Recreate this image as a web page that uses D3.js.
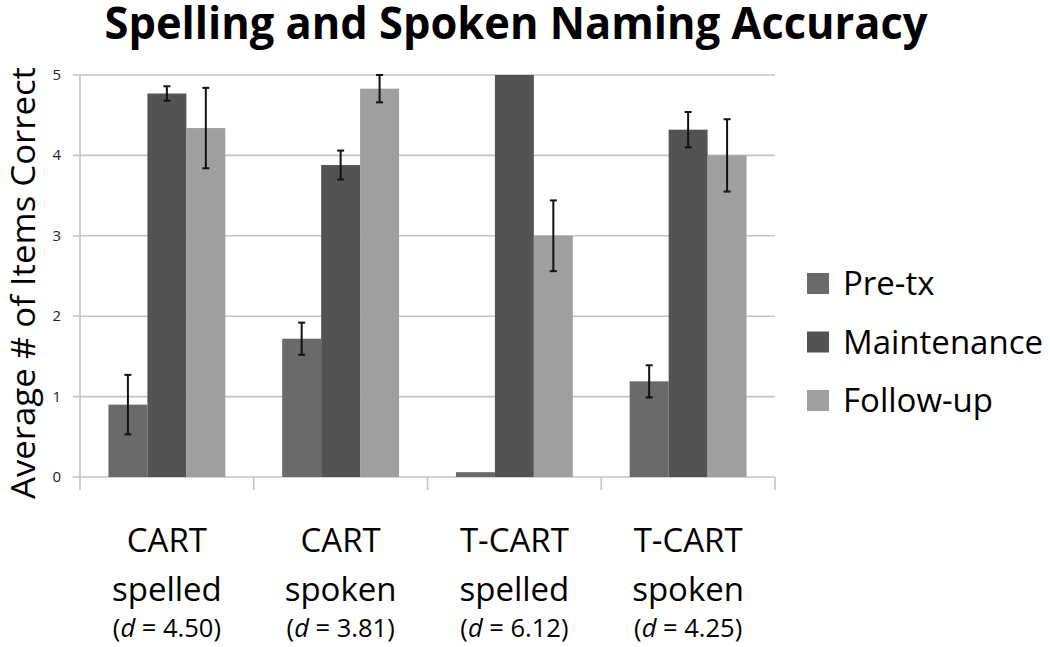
<!DOCTYPE html>
<html>
<head>
<meta charset="utf-8">
<script src="https://cdn.jsdelivr.net/npm/d3@7"></script>
<style>
  body { margin: 0; background: #fff; }
  svg text { font-family: "Open Sans", sans-serif; fill: #000; }
</style>
</head>
<body>
<div id="app"></div>
<script>
// data
const categories = ["CART spelled", "CART spoken", "T-CART spelled", "T-CART spoken"];
const catLine1 = ["CART", "CART", "T-CART", "T-CART"];
const catLine2 = ["spelled", "spoken", "spelled", "spoken"];
const effectSizes = ["4.50", "3.81", "6.12", "4.25"];
const seriesNames = ["Pre-tx", "Maintenance", "Follow-up"];
const preTx = [0.90, 1.72, 0.06, 1.19];
const maintenance = [4.77, 3.88, 5.00, 4.32];
const followUp = [4.34, 4.83, 3.00, 4.00];
const preTxErr = [0.37, 0.20, 0, 0.20];
const maintenanceErr = [0.09, 0.18, 0, 0.22];
const followUpErr = [0.50, 0.17, 0.44, 0.45];
const yTicks = [0, 1, 2, 3, 4, 5];

const seriesValues = [preTx, maintenance, followUp];
const seriesErrs = [preTxErr, maintenanceErr, followUpErr];
const colors = ["#6a6a6a", "#535353", "#9f9f9f"];

const width = 1050, height = 647;
const plot = { left: 80, right: 775, top: 75, bottom: 477 };

const svg = d3.select("#app").append("svg")
  .attr("width", width)
  .attr("height", height);

const x0 = d3.scaleBand()
  .domain(categories)
  .range([plot.left, plot.right])
  .padding(0);

const x1 = d3.scaleBand()
  .domain(seriesNames)
  .range([0, x0.bandwidth()])
  .paddingInner(0)
  .paddingOuter(0.73);

const y = d3.scaleLinear()
  .domain([0, 5])
  .range([plot.bottom, plot.top]);

// gridlines + y ticks
svg.append("g")
  .selectAll("line")
  .data(yTicks)
  .join("line")
  .attr("x1", plot.left - 7)
  .attr("x2", plot.right)
  .attr("y1", d => y(d))
  .attr("y2", d => y(d))
  .attr("stroke", "#c4c4c4")
  .attr("stroke-width", 1.6);

svg.append("g")
  .selectAll("text")
  .data(yTicks)
  .join("text")
  .attr("x", 61)
  .attr("y", d => y(d) + 5)
  .attr("text-anchor", "end")
  .style("font-size", "15px")
  .style("fill", "#222")
  .text(d => d);

// y axis line
svg.append("line")
  .attr("x1", plot.left).attr("x2", plot.left)
  .attr("y1", plot.top).attr("y2", plot.bottom + 13)
  .attr("stroke", "#c4c4c4")
  .attr("stroke-width", 1.6);

// category ticks
const bounds = categories.map(c => x0(c)).concat([plot.right]);
svg.append("g")
  .selectAll("line")
  .data(bounds.slice(1))
  .join("line")
  .attr("x1", d => d).attr("x2", d => d)
  .attr("y1", plot.bottom).attr("y2", plot.bottom + 13)
  .attr("stroke", "#c4c4c4")
  .attr("stroke-width", 1.6);

// bars
const groups = svg.append("g")
  .selectAll("g")
  .data(seriesNames)
  .join("g")
  .attr("fill", (d, i) => colors[i]);

groups.selectAll("rect")
  .data((s, i) => categories.map((c, j) => ({ c, s, v: seriesValues[i][j], e: seriesErrs[i][j] })))
  .join("rect")
  .attr("x", d => x0(d.c) + x1(d.s))
  .attr("width", x1.bandwidth())
  .attr("y", d => y(d.v))
  .attr("height", d => y(0) - y(d.v));

// error bars
const errData = [];
seriesNames.forEach((s, i) => categories.forEach((c, j) => {
  if (seriesErrs[i][j] > 0) errData.push({ c, s, v: seriesValues[i][j], e: seriesErrs[i][j] });
}));

const eb = svg.append("g")
  .attr("stroke", "#111")
  .attr("stroke-width", 2)
  .selectAll("g")
  .data(errData)
  .join("g")
  .attr("transform", d => `translate(${x0(d.c) + x1(d.s) + x1.bandwidth() / 2},0)`);

eb.append("line")
  .attr("y1", d => y(d.v + d.e))
  .attr("y2", d => y(d.v - d.e));
eb.append("line")
  .attr("x1", -3.5).attr("x2", 3.5)
  .attr("y1", d => y(d.v + d.e)).attr("y2", d => y(d.v + d.e));
eb.append("line")
  .attr("x1", -3.5).attr("x2", 3.5)
  .attr("y1", d => y(d.v - d.e)).attr("y2", d => y(d.v - d.e));

// x category labels
const xl = svg.append("g")
  .selectAll("g")
  .data(categories)
  .join("g")
  .attr("transform", d => `translate(${x0(d) + x0.bandwidth() / 2},0)`);

xl.append("text")
  .attr("y", 552)
  .attr("text-anchor", "middle")
  .style("font-size", "33px")
  .text((d, i) => catLine1[i]);

xl.append("text")
  .attr("y", 601)
  .attr("text-anchor", "middle")
  .style("font-size", "33px")
  .text((d, i) => catLine2[i]);

const dl = xl.append("text")
  .attr("y", 637)
  .attr("text-anchor", "middle")
  .style("font-size", "25.5px");
dl.append("tspan").text("(");
dl.append("tspan").style("font-style", "italic").text("d");
dl.append("tspan").text((d, i) => ` = ${effectSizes[i]})`);

// y axis title
svg.append("text")
  .attr("transform", "translate(35,283) rotate(-90)")
  .attr("text-anchor", "middle")
  .attr("textLength", 432)
  .attr("lengthAdjust", "spacingAndGlyphs")
  .style("font-size", "33px")
  .text("Average # of Items Correct");

// title
svg.append("text")
  .attr("x", 516)
  .attr("y", 39)
  .attr("text-anchor", "middle")
  .attr("textLength", 823)
  .attr("lengthAdjust", "spacingAndGlyphs")
  .style("font-size", "44px")
  .style("font-weight", "bold")
  .text("Spelling and Spoken Naming Accuracy");

// legend
const lg = svg.append("g")
  .selectAll("g")
  .data(seriesNames)
  .join("g")
  .attr("transform", (d, i) => `translate(807,${273 + i * 58.5})`);

lg.append("rect")
  .attr("width", 22)
  .attr("height", 21)
  .attr("fill", (d, i) => colors[i]);

lg.append("text")
  .attr("x", 36)
  .attr("y", 22)
  .style("font-size", "33px")
  .text(d => d);
</script>
</body>
</html>
